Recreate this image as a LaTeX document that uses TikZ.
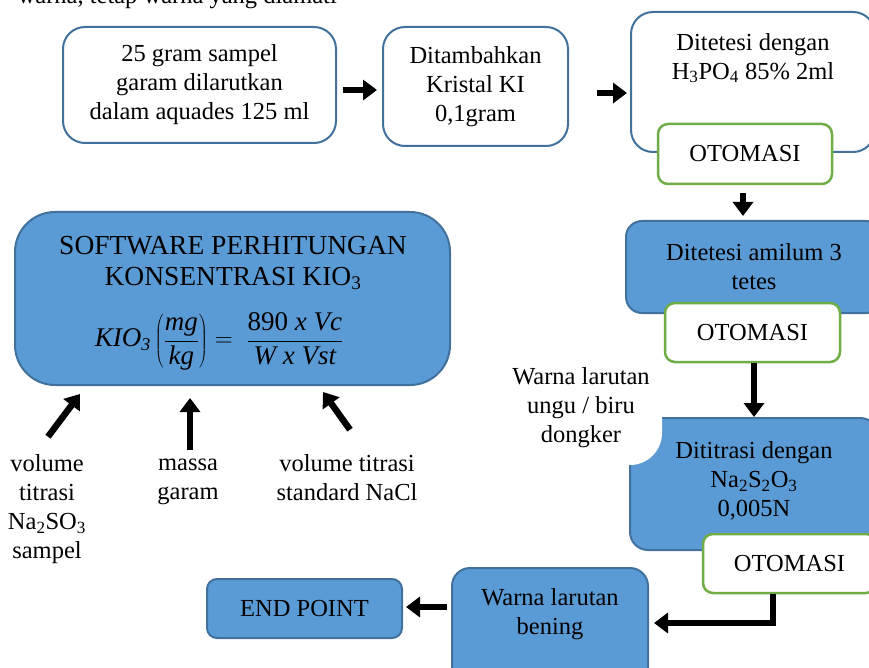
\documentclass[tikz,border=0pt]{standalone}
\usepackage{fontspec}
\setmainfont{Liberation Serif}
\usetikzlibrary{arrows.meta}
\definecolor{fillblue}{HTML}{5B9BD5}
\definecolor{bordblue}{HTML}{41719C}
\definecolor{grn}{HTML}{70AD47}
\tikzset{
  wbox/.style={draw=bordblue, line width=2pt, fill=white, rounded corners=22pt, inner sep=0pt},
  bbox/.style={draw=bordblue, line width=2pt, fill=fillblue, rounded corners=16pt, inner sep=0pt},
  gbox/.style={draw=grn, line width=2.5pt, fill=white, rounded corners=10pt, inner sep=0pt},
  txt/.style={align=center, font=\fontsize{24.5}{29}\selectfont, inner sep=0pt},
  barrow/.style={line width=6.5pt, -{Triangle[width=20pt,length=14pt]}},
}
\newcommand{\eqit}[1]{\mbox{\itshape #1}}
\begin{document}
\begin{tikzpicture}[x=1pt,y=-1pt]
\clip (0,0) rectangle (869,668);
% partial text at top
\node[txt, anchor=base east] (toptxt) at (337,4) {warna, tetap warna yang diamati};
% top row
\node[wbox, minimum width=273pt, minimum height=116pt, txt] (b1) at (199.5,85) {25 gram sampel\\garam dilarutkan\\dalam aquades 125 ml};
\node[wbox, minimum width=185pt, minimum height=119pt, txt] (b2) at (475.5,86.5) {Ditambahkan\\Kristal KI\\0,1gram};
\node[wbox, minimum width=244pt, minimum height=140pt] (b3) at (753,82) {};
\node[txt] (t3) at (753,58) {Ditetesi dengan\\H\textsubscript{3}PO\textsubscript{4} 85\% 2ml};
\node[gbox, minimum width=174pt, minimum height=60pt, txt] (o1) at (745,154) {OTOMASI};
% right column
\node[bbox, minimum width=256pt, minimum height=92pt, txt] (b4) at (754,267) {Ditetesi amilum 3\\tetes};
\node[gbox, minimum width=175pt, minimum height=59pt, txt] (o2) at (752.5,332.5) {OTOMASI};
\node[bbox, rounded corners=18pt, minimum width=248pt, minimum height=132pt] (b5) at (754,484) {};
\node[fill=white, rounded corners=32pt, minimum width=162pt, minimum height=115pt, txt] (w1) at (581,407.5) {Warna larutan\\ungu / biru\\dongker};
\node[txt] (t5) at (754,481) {Dititrasi dengan\\Na\textsubscript{2}S\textsubscript{2}O\textsubscript{3}\\0,005N};
\node[gbox, minimum width=173pt, minimum height=59pt, txt] (o3) at (789.5,563.5) {OTOMASI};
% bottom row
\node[bbox, rounded corners=18pt, minimum width=196pt, minimum height=122pt] (b6) at (550,629) {};
\node[txt] (t6) at (550,614) {Warna larutan\\bening};
\node[bbox, rounded corners=10pt, minimum width=195pt, minimum height=59pt, txt] (ep) at (304.5,608.5) {END POINT};
% software box
\node[bbox, rounded corners=40pt, minimum width=435pt, minimum height=173pt] (sw) at (232.5,298.5) {};
\node[align=center, inner sep=0pt, font=\fontsize{27.5}{31}\selectfont] (swt) at (233,263) {SOFTWARE PERHITUNGAN\\KONSENTRASI KIO\textsubscript{3}};
\node[inner sep=0pt, font=\fontsize{27}{31}\selectfont] (eq) at (219,341) {$\displaystyle \eqit{KIO}_{\mbox{\fontsize{18}{18}\selectfont\itshape 3}}\left(\frac{\eqit{mg}}{\eqit{kg}}\right)=\ \frac{\mbox{890 \itshape x Vc}}{\eqit{W x Vst}}$};
% labels under software box
\node[txt] (la) at (47,509.5) {volume\\titrasi\\Na\textsubscript{2}SO\textsubscript{3}\\sampel};
\node[txt] (lb) at (188,481.5) {massa\\garam};
\node[txt] (lc) at (347,478) {volume titrasi\\standard NaCl};
% connectors
\draw[barrow, shorten <=6pt, shorten >=5pt] ([yshift=-5pt]b1.east) -- ([yshift=-3.5pt]b2.west);
\draw[barrow, shorten <=28pt, shorten >=3pt] ([yshift=-6.5pt]b2.east) -- ([yshift=-11pt]b3.west);
\draw[barrow, shorten <=8pt, shorten >=4pt] ([xshift=-2pt]o1.south) -- ([xshift=-11pt]b4.north);
\draw[barrow] ([xshift=1.5pt]o2.south) -- (b5.north);
\draw[barrow, shorten >=5pt] ([xshift=-16.5pt]o3.south) |- ([yshift=6pt]b6.east);
\draw[barrow, shorten <=4pt, shorten >=3pt] ([yshift=22pt]b6.west) -- ([yshift=1.5pt]ep.east);
\draw[barrow] ([shift={(1pt,18pt)}]la.north) -- ([shift={(66pt,-8pt)}]sw.south west);
\draw[barrow] ([shift={(2pt,8pt)}]lb.north) -- ([shift={(-42.5pt,-12pt)}]sw.south);
\draw[barrow] ([shift={(3pt,25pt)}]lc.north) -- ([shift={(-128pt,-6pt)}]sw.south east);
\end{tikzpicture}
\end{document}
